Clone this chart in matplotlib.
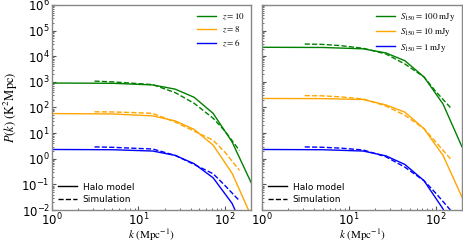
import matplotlib
matplotlib.use("Agg")
import matplotlib.pyplot as plt
from matplotlib.lines import Line2D

plt.rcParams['mathtext.fontset'] = 'stix'

# ---- data: left panel (redshift) ----
k_halo = [1.0, 5.0, 14.6, 26.6, 44.0, 73.0, 121.0, 200.0]
k_sim = [3.1, 5.0, 8.0, 14.6, 26.6, 44.0, 73.0, 100.0, 147.0]

z_labels = [r'$z=10$', r'$z=8$', r'$z=6$']
halo_z10 = [900, 880, 760, 520, 250, 59, 4.5, 0.12]
halo_z8 = [58, 56, 47, 30, 14, 3.4, 0.27, 0.006]
halo_z6 = [2.3, 2.25, 2.0, 1.35, 0.64, 0.18, 0.018, 0.0004]
sim_z10 = [1070, 1000, 900, 780, 380, 146, 38, 12, 2.1]
sim_z8 = [68, 67, 64, 59, 27, 12, 5.3, 1.8, 0.35]
sim_z6 = [2.9, 2.8, 2.6, 2.4, 1.35, 0.6, 0.26, 0.09, 0.023]

# ---- data: right panel (flux cut) ----
s_labels = [r'$S_{150}=100\ \mathrm{mJy}$', r'$S_{150}=10\ \mathrm{mJy}$',
            r'$S_{150}=1\ \mathrm{mJy}$']
halo_s100 = [22400, 22000, 19500, 13500, 6700, 1560, 137, 2.9]
halo_s10 = [225, 222, 205, 126, 66, 15, 1.35, 0.032]
halo_s1 = [2.3, 2.25, 2.0, 1.3, 0.6, 0.14, 0.011, 0.0003]
sim_s100 = [30000, 29000, 26000, 20500, 12300, 5000, 1560, 420, 100]
sim_s10 = [290, 285, 260, 215, 115, 50, 15, 4.5, 1.0]
sim_s1 = [2.9, 2.8, 2.6, 2.2, 1.2, 0.47, 0.14, 0.045, 0.01]

colors = ['green', 'orange', 'blue']

fig = plt.figure(figsize=(4.63, 2.43), dpi=100)
ax1 = fig.add_axes([52/463, 1-210/243, (251-52)/463, 205/243])
ax2 = fig.add_axes([262/463, 1-210/243, (462-262)/463, 205/243])

panels = [
    (ax1, [halo_z10, halo_z8, halo_z6], [sim_z10, sim_z8, sim_z6], z_labels),
    (ax2, [halo_s100, halo_s10, halo_s1], [sim_s100, sim_s10, sim_s1], s_labels),
]

for ax, halos, sims, labels in panels:
    handles = []
    for h, s, c, lab in zip(halos, sims, colors, labels):
        ln, = ax.plot(k_halo, h, color=c, lw=1.0, label=lab)
        ax.plot(k_sim, s, color=c, lw=1.0, ls='--')
        handles.append(ln)
    ax.set_xscale('log')
    ax.set_yscale('log')
    ax.set_xlim(1, 200)
    ax.set_ylim(1e-2, 1e6)
    ax.set_yticks([10.0**e for e in range(-2, 7)])
    for sp in ax.spines.values():
        sp.set_color('#888888')
        sp.set_linewidth(1.0)
    ax.tick_params(which='both', direction='in', top=False, right=False,
                   labelsize=8.5, color='#555555', pad=1.5)
    ax.tick_params(which='major', length=3)
    ax.tick_params(which='minor', length=1.5)
    ax.set_xlabel(r'$k\ (\mathrm{Mpc}^{-1})$', fontsize=8)
    ax.xaxis.set_label_coords(0.5, -0.086)
    leg1 = ax.legend(handles=handles, loc='upper right', frameon=False,
                     prop={'family': 'STIXGeneral', 'size': 6.5},
                     handlelength=2.1, labelspacing=0.35, borderaxespad=0.3,
                     handletextpad=0.6)
    ax.add_artist(leg1)
    style_handles = [Line2D([], [], color='black', lw=1.0, ls='-'),
                     Line2D([], [], color='black', lw=1.0, ls='--')]
    ax.legend(style_handles, ['Halo model', 'Simulation'], loc='lower left',
              frameon=False, fontsize=6.5, handlelength=2.1,
              labelspacing=0.35, borderaxespad=0.3, handletextpad=0.6)

ax2.tick_params(labelleft=False)
ax1.set_ylabel(r'$P(k)\ (\mathrm{K}^2\mathrm{Mpc})$', fontsize=9, labelpad=1)

fig.savefig('out.png', dpi=100)
